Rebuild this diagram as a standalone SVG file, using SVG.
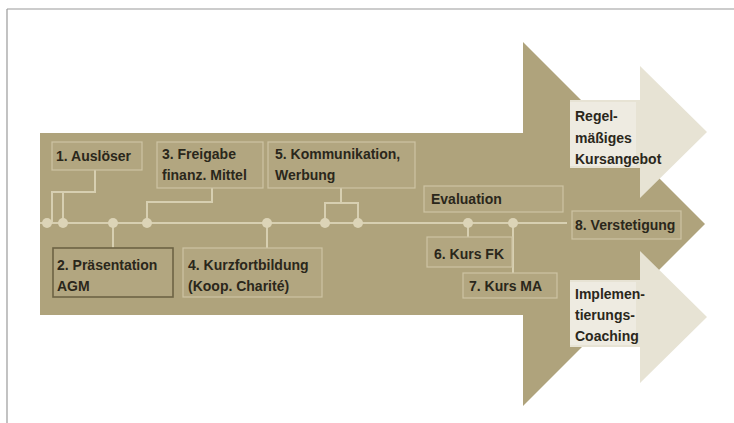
<svg xmlns="http://www.w3.org/2000/svg" width="734" height="423" viewBox="0 0 734 423">
  <style>
    .lbl { font-family: "Liberation Sans", Arial, sans-serif; font-size: 14px; font-weight: bold; fill: #2a271b; }
    .box { fill: #b2a680; stroke: #cdc4a3; stroke-width: 1.2; }
    .box-dark { fill: #b2a680; stroke: #6d6344; stroke-width: 1.6; }
    .tl { stroke: #d7cfb1; stroke-width: 2; fill: none; }
    .dot { fill: #dcd4b7; }
    .light { fill: #e7e3d4; }
    .lightbox { fill: #eeebe1; }
  </style>

  <!-- frame -->
  <g id="frame">
    <line x1="7" y1="9" x2="734" y2="9" stroke="#9a9a9a" stroke-width="1.2"/>
    <line x1="7" y1="9" x2="7" y2="423" stroke="#9a9a9a" stroke-width="1.2"/>
  </g>

  <!-- main process arrow -->
  <g id="main-arrow">
    <polygon points="40,133 523,133 523,42 705,224 523,406 523,315 40,315" fill="#afa37c"/>
  </g>

  <!-- outcome arrows -->
  <g id="outcome-top">
    <polygon class="light" points="570,100 640,100 640,66 707,132 640,198 640,168 570,168"/>
    <rect class="lightbox" x="570" y="102" width="66" height="64"/>
    <text class="lbl" x="575" y="121">Regel-</text>
    <text class="lbl" x="575" y="143">mäßiges</text>
    <text class="lbl" x="575" y="164">Kursangebot</text>
  </g>
  <g id="outcome-bottom">
    <polygon class="light" points="570,280 640,280 640,251 707,317 640,383 640,347 570,347"/>
    <rect class="lightbox" x="570" y="282" width="66" height="63"/>
    <text class="lbl" x="575" y="299">Implemen-</text>
    <text class="lbl" x="575" y="320">tierungs-</text>
    <text class="lbl" x="575" y="341">Coaching</text>
  </g>

  <!-- timeline and connectors -->
  <g id="connectors">
    <line class="tl" x1="40" y1="223" x2="567" y2="223"/>
    <!-- 1 -->
    <polyline class="tl" points="95,170 95,192 52,192 52,223"/>
    <line class="tl" x1="63" y1="192" x2="63" y2="223"/>
    <!-- 2 -->
    <line class="tl" x1="113" y1="223" x2="113" y2="248"/>
    <!-- 3 -->
    <polyline class="tl" points="212,188 212,202 147,202 147,223"/>
    <!-- 4 -->
    <line class="tl" x1="267" y1="223" x2="267" y2="248"/>
    <!-- 5 -->
    <line class="tl" x1="341" y1="188" x2="341" y2="203"/>
    <polyline class="tl" points="325,223 325,203 358,203 358,223"/>
    <!-- 6 / 7 -->
    <line class="tl" x1="468" y1="223" x2="468" y2="237"/>
    <line class="tl" x1="513" y1="223" x2="513" y2="273"/>
    <circle class="dot" cx="47" cy="223" r="5"/>
    <circle class="dot" cx="63" cy="223" r="5"/>
    <circle class="dot" cx="113" cy="223" r="5"/>
    <circle class="dot" cx="147" cy="223" r="5"/>
    <circle class="dot" cx="267" cy="223" r="5"/>
    <circle class="dot" cx="325" cy="223" r="5"/>
    <circle class="dot" cx="358" cy="223" r="5"/>
    <circle class="dot" cx="468" cy="223" r="5"/>
    <circle class="dot" cx="513" cy="223" r="5"/>
  </g>

  <!-- steps -->
  <g id="step1">
    <rect class="box" x="52" y="142" width="90" height="28"/>
    <text class="lbl" x="56" y="161">1. Auslöser</text>
  </g>
  <g id="step3">
    <rect class="box" x="157" y="142" width="106" height="46"/>
    <text class="lbl" x="162" y="159">3. Freigabe</text>
    <text class="lbl" x="162" y="180">finanz. Mittel</text>
  </g>
  <g id="step5">
    <rect class="box" x="268" y="142" width="147" height="46"/>
    <text class="lbl" x="275" y="159">5. Kommunikation,</text>
    <text class="lbl" x="275" y="180">Werbung</text>
  </g>
  <g id="step2">
    <rect class="box-dark" x="53" y="248" width="120" height="49"/>
    <text class="lbl" x="57" y="270">2. Präsentation</text>
    <text class="lbl" x="57" y="291">AGM</text>
  </g>
  <g id="step4">
    <rect class="box" x="183" y="248" width="139" height="49"/>
    <text class="lbl" x="188" y="270">4. Kurzfortbildung</text>
    <text class="lbl" x="188" y="291">(Koop. Charité)</text>
  </g>
  <g id="evaluation">
    <rect class="box" x="424" y="186" width="139" height="26"/>
    <text class="lbl" x="431" y="204">Evaluation</text>
  </g>
  <g id="step6">
    <rect class="box" x="427" y="237" width="85" height="30"/>
    <text class="lbl" x="434" y="259">6. Kurs FK</text>
  </g>
  <g id="step7">
    <rect class="box" x="463" y="273" width="94" height="25"/>
    <text class="lbl" x="469" y="291">7. Kurs MA</text>
  </g>
  <g id="step8">
    <rect class="box" x="572" y="211" width="109" height="28"/>
    <text class="lbl" x="575" y="230">8. Verstetigung</text>
  </g>
</svg>
